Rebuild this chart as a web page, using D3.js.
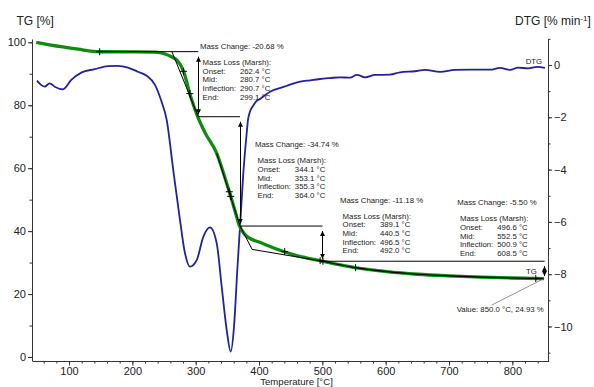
<!DOCTYPE html>
<html><head><meta charset="utf-8">
<script src="https://cdn.jsdelivr.net/npm/d3@7"></script>
<style>
html,body{margin:0;padding:0;background:#fff;}
svg{display:block;font-family:"Liberation Sans",Arial,sans-serif;}
</style></head><body>
<svg id="chart" width="594" height="387"></svg>
<script>
// TG curve: temperature [°C] and residual mass [%]
const tgTemp = [48.3, 87.8, 114.2, 148.4, 208.9, 235.7, 251.5, 261.0, 270.0, 280.4, 292.1, 304.1, 314.7, 333.2, 346.3, 354.2, 362.1, 368.8, 377.8, 387.3, 398.9, 425.2, 456.8, 499.0, 551.6, 602.1, 651.0, 700.0, 750.6, 799.5, 850.0];
const tgMass = [100.0, 98.6, 97.8, 97.0, 96.95, 96.85, 96.3, 95.5, 94.4, 91.0, 82.7, 75.9, 71.3, 64.7, 56.9, 51.8, 46.4, 41.8, 38.9, 37.5, 36.6, 34.5, 32.4, 30.5, 28.4, 27.1, 26.3, 25.8, 25.4, 25.1, 24.93];

// DTG curve: temperature [°C] and mass-loss rate [% min-1]
const dtgTemp = [49.4, 56.2, 61.6, 69.5, 77.4, 90.5, 103.6, 119.4, 140.5, 161.5, 177.3, 193.1, 208.9, 223.1, 235.7, 245.2, 254.2, 264.6, 275.2, 283.1, 291.0, 301.6, 312.0, 322.6, 333.2, 341.1, 349.0, 355.3, 360.5, 365.7, 370.0, 375.2, 380.5, 382.6, 385.7, 390.5, 395.2, 401.5, 417.3, 441.0, 448.9, 464.7, 480.5, 496.3, 512.1, 527.9, 543.7, 554.7, 567.4, 583.2, 606.9, 622.7, 646.3, 662.1, 685.8, 709.5, 733.2, 764.8, 780.5, 796.3, 809.0, 824.8, 839.0, 851.6];
const dtgRate = [-0.60, -0.77, -0.83, -0.70, -0.83, -0.93, -0.57, -0.29, -0.16, -0.04, -0.03, -0.10, -0.26, -0.42, -0.76, -1.34, -2.10, -4.02, -5.93, -7.20, -7.71, -7.46, -6.57, -6.21, -6.82, -8.48, -10.14, -10.96, -10.01, -7.84, -6.18, -4.14, -2.61, -2.10, -1.79, -1.57, -1.40, -1.30, -1.02, -0.82, -0.75, -0.64, -0.585, -0.535, -0.50, -0.47, -0.485, -0.38, -0.47, -0.38, -0.37, -0.28, -0.24, -0.19, -0.26, -0.19, -0.18, -0.18, -0.11, -0.19, -0.10, -0.13, -0.07, -0.11];

// Axis ticks
const xMajor = [100, 200, 300, 400, 500, 600, 700, 800];
const xMinor = d3.range(60, 841, 20);
const tgMajor = [0, 20, 40, 60, 80, 100];
const tgMinor = d3.range(0, 101, 10);
const dtgMajor = [0, -2, -4, -6, -8, -10];
const dtgMinor = d3.range(-11, 2, 1);

// Evaluated mass-loss steps (Marsh method)
const stepMassChange = [-20.68, -34.74, -11.18, -5.50];
const stepOnset = [262.4, 344.1, 389.1, 496.6];
const stepMid = [280.7, 353.1, 440.5, 552.5];
const stepInflection = [290.7, 355.3, 496.5, 500.9];
const stepEnd = [299.1, 364.0, 492.0, 608.5];
const finalTemp = 850.0;
const finalMass = 24.93;

// Temperatures of the step arrows / level boundaries and start of the first baseline
const stepArrowTemp = [304.1, 370.0, 500.2, 850.0];
const baselineStart = 148.4;
const levelEnd = 851.0;
// extra evaluation marks on the TG curve
const extraMarks = [148.4, 837.0];

// label anchors (temperature, mass %) for each step annotation
const labelTemp = [306.8, 393.6, 527.9, 713.1];
const labelMass = [97.9, 66.6, 49.0, 48.2];

const svg = d3.select('#chart');
const x = d3.scaleLinear().domain([42, 857.4]).range([32.3, 548.7]);
const yTG = d3.scaleLinear().domain([-1.27, 101.05]).range([361, 39]);
const yDTG = d3.scaleLinear().domain([-11.32, 0.994]).range([361, 39]);

const axisColor = '#333';
const textColor = '#222';

// mass level at the start of each step and after the last one
const levels = [finalMass];
for (let i = stepMassChange.length - 1; i >= 0; i--) levels.unshift(levels[0] - stepMassChange[i]);

function tgAt(t) {
  const i = d3.bisectLeft(tgTemp, t);
  if (i <= 0) return tgMass[0];
  if (i >= tgTemp.length) return tgMass[tgMass.length - 1];
  const t0 = tgTemp[i - 1], t1 = tgTemp[i];
  return tgMass[i - 1] + (tgMass[i] - tgMass[i - 1]) * (t - t0) / (t1 - t0);
}

// ---- axes ----
function styleAxis(g) {
  g.selectAll('path,line').attr('stroke', axisColor);
  g.selectAll('text').attr('fill', textColor).style('font-size', '11px')
   .style('font-family', '"Liberation Sans",Arial,sans-serif');
}
// bottom
svg.append('g').attr('transform', 'translate(0,361)')
  .call(d3.axisBottom(x).tickValues(xMinor).tickSize(2.5).tickFormat(''))
  .call(g => g.select('.domain').remove()).call(styleAxis);
svg.append('g').attr('transform', 'translate(0,361)')
  .call(d3.axisBottom(x).tickValues(xMajor).tickSize(4.5).tickSizeOuter(0).tickPadding(2))
  .call(styleAxis);
// left
svg.append('g').attr('transform', 'translate(32,0)')
  .call(d3.axisLeft(yTG).tickValues(tgMinor).tickSize(2.5).tickFormat(''))
  .call(g => g.select('.domain').remove()).call(styleAxis);
svg.append('g').attr('transform', 'translate(32,0)')
  .call(d3.axisLeft(yTG).tickValues(tgMajor).tickSize(4).tickSizeOuter(0).tickPadding(2))
  .call(styleAxis);
// right
svg.append('g').attr('transform', 'translate(548,0)')
  .call(d3.axisRight(yDTG).tickValues(dtgMinor).tickSize(2.5).tickFormat(''))
  .call(g => g.select('.domain').remove()).call(styleAxis);
svg.append('g').attr('transform', 'translate(548,0)')
  .call(d3.axisRight(yDTG).tickValues(dtgMajor).tickSize(4).tickSizeOuter(0).tickPadding(2))
  .call(styleAxis);

// axis titles
svg.append('text').attr('x', 16.5).attr('y', 25).attr('fill', textColor)
  .style('font-size', '12px').text('TG [%]');
const dt = svg.append('text').attr('x', 515).attr('y', 25).attr('fill', textColor).style('font-size', '12px');
dt.append('tspan').text('DTG [% min');
dt.append('tspan').attr('dy', -4).style('font-size', '8px').text('-1');
dt.append('tspan').attr('dy', 4).text(']');
svg.append('text').attr('x', 296.5).attr('y', 385).attr('text-anchor', 'middle')
  .attr('fill', textColor).style('font-size', '9.6px').text('Temperature [°C]');

// ---- curves ----
const idx = d3.range(tgTemp.length);
const tgLine = d3.line().curve(d3.curveMonotoneX).x(i => x(tgTemp[i])).y(i => yTG(tgMass[i]));
const dIdx = d3.range(dtgTemp.length);
const dtgLine = d3.line().curve(d3.curveMonotoneX).x(i => x(dtgTemp[i])).y(i => yDTG(dtgRate[i]));

svg.append('path').attr('d', dtgLine(dIdx)).attr('fill', 'none')
  .attr('stroke', '#22229c').attr('stroke-width', 1.8).attr('stroke-linejoin', 'round');
svg.append('path').attr('d', tgLine(idx)).attr('fill', 'none')
  .attr('stroke', '#0f8c0f').attr('stroke-width', 3.3).attr('stroke-linejoin', 'round');

// ---- Marsh construction lines ----
const cons = svg.append('g').attr('fill', 'none').attr('stroke', '#000').attr('stroke-width', 1);
const seg = d3.line().x(p => x(p[0])).y(p => yTG(p[1]));
// horizontal levels
const levelStarts = [baselineStart].concat(stepArrowTemp.slice(0, 3));
const levelEnds = stepArrowTemp.slice(0, 3).concat([levelEnd]);
levels.slice(0, 4).forEach((L, i) => {
  cons.append('path').attr('d', seg([[levelStarts[i], L], [levelEnds[i], L]]));
});
// tangents
cons.append('path').attr('d', seg([[stepOnset[0], levels[0]], [stepArrowTemp[0], levels[1]]]));
cons.append('path').attr('d', seg([[333.2, tgAt(333.2)], [stepArrowTemp[1], levels[2]]]));
cons.append('path').attr('d', seg([[stepArrowTemp[1], levels[2]], [stepOnset[2], 34.2], [stepArrowTemp[2], levels[3]]]));
// last step follows the curve itself
const tail = idx.filter(i => tgTemp[i] >= 496);
cons.append('path').attr('d', d3.line().curve(d3.curveMonotoneX)
  .x(i => x(tgTemp[i])).y(i => yTG(tgMass[i]))(tail)).attr('stroke-width', 1.2);

// double arrows between levels
const defs = svg.append('defs');
defs.append('marker').attr('id', 'ah').attr('viewBox', '0 0 10 10').attr('refX', 10).attr('refY', 5)
  .attr('markerWidth', 5).attr('markerHeight', 5).attr('markerUnits', 'userSpaceOnUse')
  .attr('orient', 'auto-start-reverse')
  .append('path').attr('d', 'M0,0L10,5L0,10Z').attr('fill', '#000');
stepArrowTemp.forEach((t, i) => {
  const xa = Math.round(x(t)) + 0.5;
  const y0 = yTG(levels[i]) + 5, y1 = yTG(levels[i + 1]) - 2.5;
  svg.append('line').attr('x1', xa).attr('x2', xa).attr('y1', y0).attr('y2', y1)
    .attr('stroke', '#000').attr('stroke-width', 1)
    .attr('marker-start', 'url(#ah)').attr('marker-end', 'url(#ah)');
});

// evaluation marks (+) on the TG curve
const marks = extraMarks.concat(stepMid, stepInflection);
svg.append('g').selectAll('path').data(marks).join('path')
  .attr('d', t => {
    const px = x(t), py = yTG(tgAt(t));
    return `M${px - 3.5},${py}H${px + 3.5}M${px},${py - 3.5}V${py + 3.5}`;
  })
  .attr('stroke', '#000').attr('stroke-width', 1).attr('fill', 'none');

// ---- annotation texts ----
const ann = svg.append('g').attr('fill', textColor).style('font-size', '7.8px');
const fmt = v => v.toFixed(1) + ' °C';
stepMassChange.forEach((mc, i) => {
  const lx = x(labelTemp[i]), ly = yTG(labelMass[i]);
  ann.append('text').attr('x', lx).attr('y', ly).text(`Mass Change: ${mc.toFixed(2)} %`);
  const bx = lx + 2.6, by = ly + 16;
  ann.append('text').attr('x', bx).attr('y', by).text('Mass Loss (Marsh):');
  const rows = [['Onset:', stepOnset[i]], ['Mid:', stepMid[i]], ['Inflection:', stepInflection[i]], ['End:', stepEnd[i]]];
  rows.forEach((r, k) => {
    ann.append('text').attr('x', bx).attr('y', by + 8.65 * (k + 1)).text(r[0]);
    ann.append('text').attr('x', bx + 37.3).attr('y', by + 8.65 * (k + 1)).text(fmt(r[1]));
  });
});

// curve labels
ann.append('text').attr('x', x(821.6)).attr('y', yTG(26.5)).text('TG');
ann.append('text').attr('x', x(821.1)).attr('y', yDTG(0.04)).text('DTG');

// final value call-out
svg.append('line').attr('x1', x(767.4)).attr('y1', yTG(16.5)).attr('x2', x(finalTemp)).attr('y2', yTG(finalMass))
  .attr('stroke', '#777').attr('stroke-width', 0.8);
ann.append('text').attr('x', x(712.1)).attr('y', yTG(14.3))
  .text(`Value: ${finalTemp.toFixed(1)} °C, ${finalMass.toFixed(2)} %`);
</script>
</body></html>
